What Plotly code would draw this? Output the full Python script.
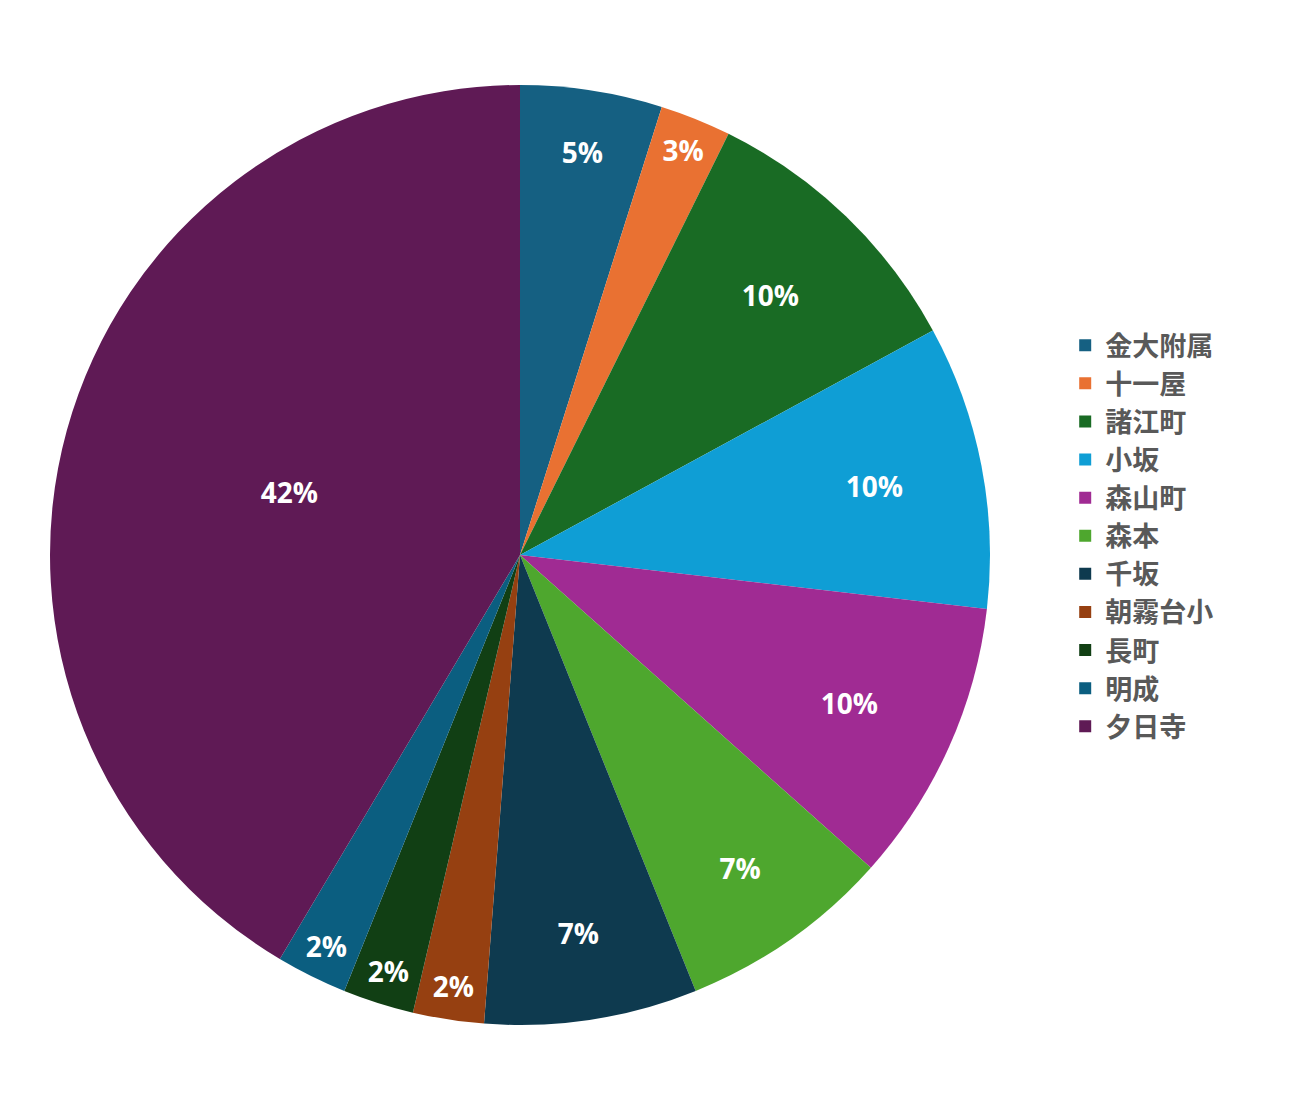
import plotly.graph_objects as go

schools = ["金大附属", "十一屋", "諸江町", "小坂", "森山町", "森本",
           "千坂", "朝霧台小", "長町", "明成", "夕日寺"]
counts = [2, 1, 4, 4, 4, 3, 3, 1, 1, 1, 17]
pct_labels = ["5%", "3%", "10%", "10%", "10%", "7%", "7%", "2%", "2%", "2%", "42%"]
colors = ["#156082", "#e97132", "#196b24", "#0f9ed5", "#a02b93", "#4ea72e",
          "#0e3a4f", "#964011", "#113f14", "#0b5e80", "#5f1a55"]

fig = go.Figure(go.Pie(
    labels=schools, values=counts, text=pct_labels,
    textinfo="text", textposition="inside", insidetextorientation="horizontal",
    sort=False, direction="clockwise", rotation=0,
    marker=dict(colors=colors, line=dict(width=0)),
    textfont=dict(family="Open Sans", size=28, color="white", weight="bold"),
))

fig.update_layout(
    width=1290, height=1111,
    margin=dict(l=42, r=308, t=77, b=94),
    paper_bgcolor="white",
    legend=dict(x=1.08, y=0.52, yanchor="middle", xanchor="left",
                font=dict(family="Noto Sans CJK JP", size=27, color="#595959", weight="bold"),
                itemwidth=30, tracegroupgap=0),
)

fig.write_html("out.html")
